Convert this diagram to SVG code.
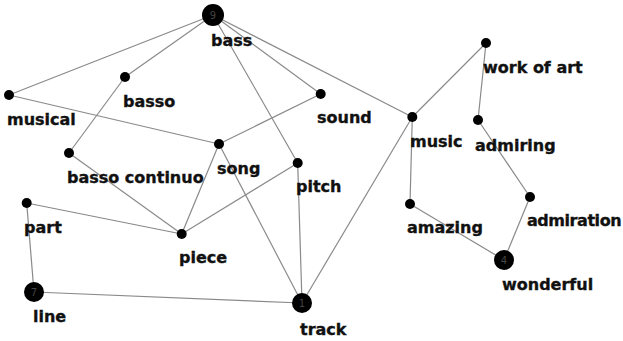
<svg xmlns="http://www.w3.org/2000/svg" width="623" height="341" viewBox="0 0 623 341">
  <style>
    .edge { stroke: #8a8a8a; stroke-width: 1.2; fill: none; }
    .dot { fill: #000; }
    .lbl { font-family: "DejaVu Sans", Verdana, sans-serif; font-weight: bold; font-size: 16px; fill: #111; stroke: #111; stroke-width: 0.35; }
    .num { font-family: "DejaVu Sans", Verdana, sans-serif; font-size: 10px; fill: #444; text-anchor: middle; }
  </style>
  <rect width="623" height="341" fill="#fff"/>
  <g id="connectors">
    <line class="edge" x1="213" y1="15" x2="9" y2="95"/>
    <line class="edge" x1="213" y1="15" x2="125" y2="77"/>
    <line class="edge" x1="213" y1="15" x2="320.7" y2="94"/>
    <line class="edge" x1="213" y1="15" x2="297.7" y2="163"/>
    <line class="edge" x1="213" y1="15" x2="412.3" y2="117"/>
    <line class="edge" x1="9" y1="95" x2="219" y2="144"/>
    <line class="edge" x1="125" y1="77" x2="69" y2="153"/>
    <line class="edge" x1="320.7" y1="94" x2="219" y2="144"/>
    <line class="edge" x1="69" y1="153" x2="181.7" y2="234"/>
    <line class="edge" x1="219" y1="144" x2="181.7" y2="234"/>
    <line class="edge" x1="219" y1="144" x2="302" y2="303"/>
    <line class="edge" x1="297.7" y1="163" x2="181.7" y2="234"/>
    <line class="edge" x1="297.7" y1="163" x2="302" y2="303"/>
    <line class="edge" x1="26.7" y1="203" x2="181.7" y2="234"/>
    <line class="edge" x1="26.7" y1="203" x2="34" y2="292"/>
    <line class="edge" x1="34" y1="292" x2="302" y2="303"/>
    <line class="edge" x1="302" y1="303" x2="412.3" y2="117"/>
    <line class="edge" x1="412.3" y1="117" x2="486" y2="43"/>
    <line class="edge" x1="412.3" y1="117" x2="410" y2="204"/>
    <line class="edge" x1="486" y1="43" x2="478" y2="120"/>
    <line class="edge" x1="478" y1="120" x2="530" y2="197"/>
    <line class="edge" x1="530" y1="197" x2="504" y2="260"/>
    <line class="edge" x1="410" y1="204" x2="504" y2="260"/>
  </g>
  <g id="bass">
    <circle class="dot" cx="213" cy="15" r="11"/>
    <text class="num" x="213" y="19">9</text>
    <text class="lbl" x="211" y="46">bass</text>
  </g>
  <g id="basso">
    <circle class="dot" cx="125" cy="77" r="5"/>
    <text class="lbl" x="123" y="107">basso</text>
  </g>
  <g id="musical">
    <circle class="dot" cx="9" cy="95" r="5"/>
    <text class="lbl" x="7" y="125">musical</text>
  </g>
  <g id="sound">
    <circle class="dot" cx="320.7" cy="94" r="5"/>
    <text class="lbl" x="317" y="123">sound</text>
  </g>
  <g id="song">
    <circle class="dot" cx="219" cy="144" r="5"/>
    <text class="lbl" x="217" y="174">song</text>
  </g>
  <g id="basso-continuo">
    <circle class="dot" cx="69" cy="153" r="5"/>
    <text class="lbl" x="67" y="183">basso continuo</text>
  </g>
  <g id="pitch">
    <circle class="dot" cx="297.7" cy="163" r="5"/>
    <text class="lbl" x="296" y="192">pitch</text>
  </g>
  <g id="part">
    <circle class="dot" cx="26.7" cy="203" r="5"/>
    <text class="lbl" x="24" y="233">part</text>
  </g>
  <g id="piece">
    <circle class="dot" cx="181.7" cy="234" r="5"/>
    <text class="lbl" x="179" y="263">piece</text>
  </g>
  <g id="line">
    <circle class="dot" cx="34" cy="292" r="10"/>
    <text class="num" x="34" y="296">7</text>
    <text class="lbl" x="33" y="322">line</text>
  </g>
  <g id="track">
    <circle class="dot" cx="302" cy="303" r="10"/>
    <text class="num" x="302" y="307">1</text>
    <text class="lbl" x="300" y="335">track</text>
  </g>
  <g id="music">
    <circle class="dot" cx="412.3" cy="117" r="5"/>
    <text class="lbl" x="410" y="147">music</text>
  </g>
  <g id="work-of-art">
    <circle class="dot" cx="486" cy="43" r="5"/>
    <text class="lbl" x="483" y="73">work of art</text>
  </g>
  <g id="admiring">
    <circle class="dot" cx="478" cy="120" r="5"/>
    <text class="lbl" x="475" y="151">admiring</text>
  </g>
  <g id="amazing">
    <circle class="dot" cx="410" cy="204" r="5"/>
    <text class="lbl" x="407" y="233">amazing</text>
  </g>
  <g id="admiration">
    <circle class="dot" cx="530" cy="197" r="5"/>
    <text class="lbl" x="527" y="226" letter-spacing="-0.45">admiration</text>
  </g>
  <g id="wonderful">
    <circle class="dot" cx="504" cy="260" r="10"/>
    <text class="num" x="504" y="264">4</text>
    <text class="lbl" x="502" y="290">wonderful</text>
  </g>
</svg>
